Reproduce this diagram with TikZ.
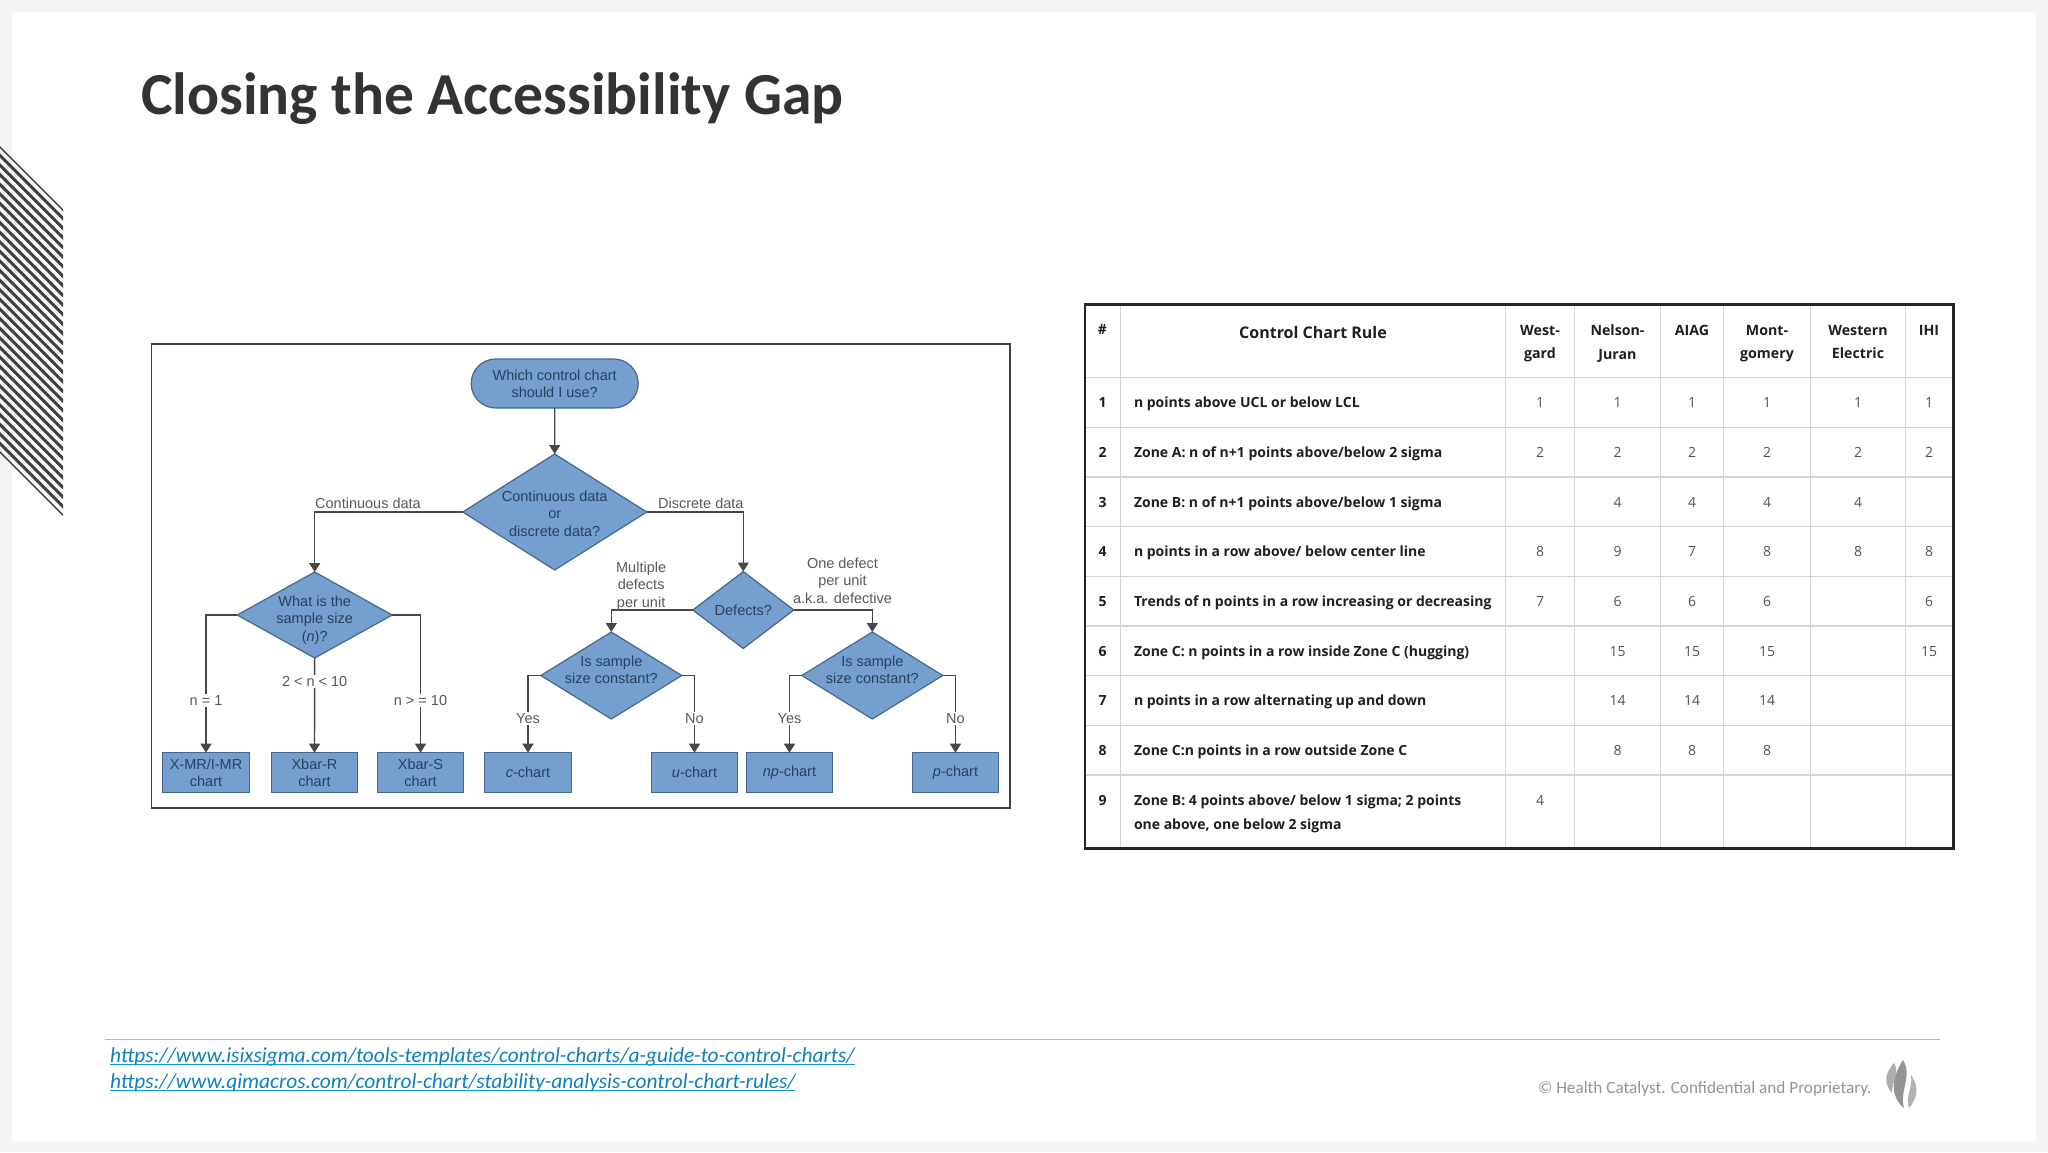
\documentclass[tikz,border=0pt]{standalone}
\usepackage{fontspec}
\setmainfont{Liberation Sans}
\newfontfamily\slidefont{Carlito}
\newfontfamily\tablefont{Open Sans}
\usetikzlibrary{positioning, shapes.geometric, shapes.misc, arrows.meta}

\definecolor{chartBlue}{HTML}{749FCF}
\definecolor{chartEdge}{HTML}{44688F}
\definecolor{chartInk}{HTML}{27405F}
\definecolor{linkBlue}{HTML}{0F7FBF}
\definecolor{gridGrey}{HTML}{D6D4DA}

\begin{document}
\begin{tikzpicture}
    [
      x=1pt, y=-1pt,
      every node/.style={outer sep=0pt},
      TERMINAL/.style={rounded rectangle, draw=chartEdge, fill=chartBlue, line width=1.2pt, minimum width=167pt, minimum height=49pt, inner sep=0pt, align=center, font=\fontsize{14.5}{17}\selectfont, text=chartInk},
      CHART/.style={rectangle, draw=chartEdge, fill=chartBlue, line width=1.2pt, minimum width=86.5pt, minimum height=40pt, inner sep=0pt, align=center, font=\fontsize{14.5}{17}\selectfont, text=chartInk},
      DIAMOND/.style={diamond, draw=chartEdge, fill=chartBlue, line width=1.2pt, inner xsep=-40pt, inner ysep=-30pt, aspect=1.6, align=center, font=\fontsize{14.5}{17.5}\selectfont, text=chartInk},
      FLOW/.style={-{Triangle[width=11pt,length=9pt]}, line width=1.4pt, black!72},
      BRANCH/.style={font=\fontsize{14.5}{17.5}\selectfont, text=black!65, align=center, inner sep=1.5pt},
      HEADCELL/.style={anchor=base, font=\tablefont\bfseries\fontsize{14.2}{23.5}\selectfont, text=black!88, align=center, inner sep=0pt},
      RULECELL/.style={anchor=base west, font=\tablefont\bfseries\fontsize{14}{24}\selectfont, text=black!88, align=left, inner sep=0pt},
      NUMCELL/.style={anchor=base, font=\tablefont\bfseries\fontsize{14}{17}\selectfont, text=black!88, inner sep=0pt},
      VALCELL/.style={anchor=base, font=\tablefont\fontsize{14}{17}\selectfont, text=black!68, inner sep=0pt},
      GRID/.style={gridGrey, line width=1.3pt},
    ]

    % slide
    \fill[black!4!white] (0,0) rectangle (2048,1152);
    \fill[white] (12,12) rectangle (2036,1141);
    \useasboundingbox (0,0) rectangle (2048,1152);
    \begin{scope}
      \clip (0,146) -- (63,209) -- (63,516) -- (0,453) -- cycle;
      \foreach \k in {-1,...,33}
        \draw[black!75, line width=3pt] (-5,{141+9.6*\k}) -- (68,{214+9.6*\k});
    \end{scope}
    \node[anchor=base west, inner sep=0pt, font=\slidefont\bfseries\fontsize{59.6}{62}\selectfont, text=black!80] (slideTitle) at (141,114) {Closing the Accessibility Gap};

    % flow chart
    \draw[black!75, line width=1.5pt, fill=white] (151.5,344) rectangle (1010,808);
    \node[TERMINAL] (whichChart) at (554.7,383.5) {Which control chart\\should I use?};
    \node[DIAMOND, minimum width=184pt, minimum height=116pt] (isContinuous) [below = 46pt of whichChart] {\rule{0pt}{14pt}Continuous data\\or\\discrete data?};
    \node[DIAMOND, minimum width=155pt, minimum height=86pt] (sampleSize) at (314.7,615) {\rule{0pt}{20pt}What is the\\sample size\\(\textit{n})?};
    \node[DIAMOND, minimum width=101pt, minimum height=77pt] (defects) at (743.3,610) {Defects?};
    \node[DIAMOND, minimum width=141pt, minimum height=87pt] (isConstantA) at (611.3,675.5) {Is sample\\size constant?\rule[-12pt]{0pt}{12pt}};
    \node[DIAMOND, minimum width=141pt, minimum height=87pt] (isConstantB) at (872.3,675.5) {Is sample\\size constant?\rule[-12pt]{0pt}{12pt}};
    \node[CHART] (xmrChart) at (206,772.7) {X-MR/I-MR\\chart};
    \node[CHART] (xbarRChart) [right = 22pt of xmrChart] {Xbar-R\\chart};
    \node[CHART] (xbarSChart) [right = 19.5pt of xbarRChart] {Xbar-S\\chart};
    \node[CHART] (cChart) [right = 21pt of xbarSChart] {\textit{c}-chart};
    \node[CHART] (uChart) [right = 80pt of cChart] {\textit{u}-chart};
    \node[CHART] (npChart) [right = 8.5pt of uChart] {\textit{np}-chart};
    \node[CHART] (pChart) [right = 79.5pt of npChart] {\textit{p}-chart};

    \draw[FLOW] (whichChart) to (isContinuous);
    \draw[FLOW] (isContinuous.west) -| node[BRANCH, above, inner ysep=3.5pt, pos=0.32] (continuousLabel) {Continuous data} (sampleSize.north);
    \draw[FLOW] (isContinuous.east) -| node[BRANCH, above, inner ysep=3.5pt, pos=0.28] (discreteLabel) {Discrete data} (defects.north);
    \draw[FLOW] (sampleSize.west) -| node[BRANCH, fill=white, pos=0.81] (oneLabel) {n = 1} (xmrChart.north);
    \draw[FLOW] (sampleSize.south) to node[BRANCH, fill=white, pos=0.25] (midLabel) {2 < n < 10} (xbarRChart.north);
    \draw[FLOW] (sampleSize.east) -| node[BRANCH, fill=white, pos=0.81] (tenLabel) {n > = 10} (xbarSChart.north);
    \draw[FLOW] (defects.west) -| node[BRANCH, above, yshift=-1.5pt, pos=0.317] (multipleLabel) {Multiple\\defects\\per unit} (isConstantA.north);
    \draw[FLOW] (defects.east) -| node[BRANCH, above, yshift=5pt, pos=0.31] (oneDefectLabel) {One defect\\per unit\\a.k.a. defective} (isConstantB.north);
    \draw[FLOW] (isConstantA.west) -| node[BRANCH, fill=white, pos=0.78] (yesLabelA) {Yes} (cChart.north);
    \draw[FLOW] (isConstantA.east) -| node[BRANCH, fill=white, pos=0.78] (noLabelA) {No} (uChart.north);
    \draw[FLOW] (isConstantB.west) -| node[BRANCH, fill=white, pos=0.78] (yesLabelB) {Yes} (npChart.north);
    \draw[FLOW] (isConstantB.east) -| node[BRANCH, fill=white, pos=0.78] (noLabelB) {No} (pChart.north);

    % table
    \foreach \colX in {1120.7,1505.3,1574.3,1660.7,1723.3,1810.7,1905.7}
      \draw[GRID] (\colX,304) -- (\colX,848);
    \foreach \rowY in {377.7,427.3,477,526.7,576.3,626,675.7,725.3,775}
      \draw[GRID] (1085,\rowY) -- (1953,\rowY);
    \draw[black!85, line width=2.4pt] (1085,304.3) rectangle (1953.3,848.3);

    \node[NUMCELL] (headNum) at (1102.5,334) {\#};
    \node[HEADCELL, font=\tablefont\bfseries\fontsize{16}{20}\selectfont] (headRule) at (1313,338) {Control Chart Rule};
    \foreach \colName/\colX/\colText in {West/1540/West-\\gard, Nelson/1617.5/Nelson-\\Juran, Aiag/1692/AIAG\\\phantom{x}, Mont/1767/Mont-\\gomery, Western/1858/Western\\Electric, Ihi/1929/IHI\\\phantom{x}}
      \node[HEADCELL, anchor=center, text depth=0pt] (head\colName) at (\colX,342) {\colText};

    \foreach \r/\ruleText in {1/{n points above UCL or below LCL}, 2/{Zone A: n of n+1 points above/below 2 sigma}, 3/{Zone B: n of n+1 points above/below 1 sigma}, 4/{n points in a row above/ below center line}, 5/{Trends of n points in a row increasing or decreasing}, 6/{Zone C: n points in a row inside Zone C (hugging)}, 7/{n points in a row alternating up and down}, 8/{Zone C:n points in a row outside Zone C}}
    {
      \node[NUMCELL] (num\r) at (1102.5,{358+49.7*\r}) {\r};
      \node[RULECELL] (rule\r) at (1134,{358+49.7*\r}) {\ruleText};
    }
    \node[NUMCELL] (num9) at (1102.5,805.3) {9};
    \node[RULECELL, anchor=north west] (rule9) at (1134,795) {Zone B: 4 points above/ below 1 sigma; 2 points\\one above, one below 2 sigma};

    \foreach \r/\v in {1/1, 2/2, 4/8, 5/7, 9/4}
      \node[VALCELL] (west\r) at (1540,{358+49.7*\r}) {\v};
    \foreach \r/\v in {1/1, 2/2, 3/4, 4/9, 5/6, 6/15, 7/14, 8/8}
      \node[VALCELL] (nelson\r) at (1617.5,{358+49.7*\r}) {\v};
    \foreach \r/\v in {1/1, 2/2, 3/4, 4/7, 5/6, 6/15, 7/14, 8/8}
      \node[VALCELL] (aiag\r) at (1692,{358+49.7*\r}) {\v};
    \foreach \r/\v in {1/1, 2/2, 3/4, 4/8, 5/6, 6/15, 7/14, 8/8}
      \node[VALCELL] (mont\r) at (1767,{358+49.7*\r}) {\v};
    \foreach \r/\v in {1/1, 2/2, 3/4, 4/8}
      \node[VALCELL] (western\r) at (1858,{358+49.7*\r}) {\v};
    \foreach \r/\v in {1/1, 2/2, 4/8, 5/6, 6/15}
      \node[VALCELL] (ihi\r) at (1929,{358+49.7*\r}) {\v};

    % footer
    \draw[black!28, line width=1.3pt] (105,1039.5) -- (1940,1039.5);
    \node[anchor=base west, inner sep=0pt, font=\slidefont\itshape\fontsize{21.4}{26}\selectfont, text=linkBlue] (linkOne) at (110,1062) {https://www.isixsigma.com/tools-templates/control-charts/a-guide-to-control-charts/};
    \node[anchor=base west, inner sep=0pt, font=\slidefont\itshape\fontsize{21.4}{26}\selectfont, text=linkBlue] (linkTwo) at (110,1088) {https://www.qimacros.com/control-chart/stability-analysis-control-chart-rules/};
    \draw[linkBlue!80!cyan, line width=1.3pt] (linkOne.base west) ++(0,2.5) -- ++(745,0);
    \draw[linkBlue!80!cyan, line width=1.3pt] (linkTwo.base west) ++(0,2.5) -- ++(685,0);
    \node[anchor=base west, inner sep=0pt, font=\slidefont\fontsize{17.2}{20}\selectfont, text=black!42] (copyright) at (1538,1093) {© Health Catalyst. Confidential and Proprietary.};

    % flames
    \fill[black!32] (1894,1063) .. controls (1900,1072) and (1892,1080) .. (1892,1093) .. controls (1884,1084) and (1884,1074) .. cycle;
    \fill[black!42] (1903,1060) .. controls (1913,1076) and (1899,1090) .. (1904,1108) .. controls (1892,1098) and (1889,1082) .. cycle;
    \fill[black!30] (1911,1075) .. controls (1919,1086) and (1918,1098) .. (1909,1108) .. controls (1905,1096) and (1913,1088) .. cycle;

\end{tikzpicture}
\end{document}
